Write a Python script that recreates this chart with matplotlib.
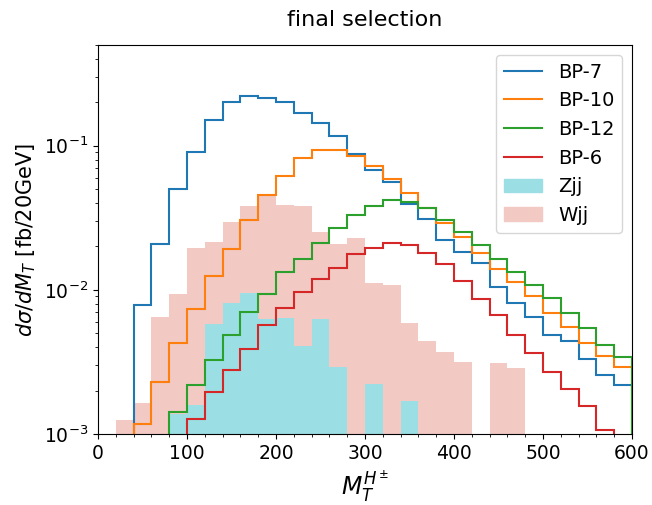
import numpy as np
import matplotlib
matplotlib.use("Agg")
import matplotlib.pyplot as plt
from matplotlib.ticker import AutoMinorLocator
from matplotlib.lines import Line2D
from matplotlib.patches import Patch

edges = np.arange(0, 620, 20)

bp7 = [0, 0, 0.0078, 0.0207, 0.050, 0.090, 0.151, 0.201, 0.221, 0.215,
       0.201, 0.170, 0.144, 0.116, 0.087, 0.068, 0.0556, 0.0395, 0.031, 0.0222,
       0.0184, 0.0153, 0.0104, 0.0081, 0.00653, 0.00487, 0.00445, 0.0033, 0.00257, 0.00219]
bp10 = [0, 0, 0.00117, 0.0023, 0.00427, 0.00734, 0.0124, 0.0193, 0.0306, 0.0452,
        0.0612, 0.0822, 0.0933, 0.094, 0.0843, 0.0726, 0.059, 0.0472, 0.0367, 0.0293,
        0.0234, 0.018, 0.0139, 0.0113, 0.0090, 0.00696, 0.0055, 0.0043, 0.00348, 0.0029]
bp12 = [0, 0, 0, 0, 0.00141, 0.00219, 0.00327, 0.00484, 0.00703, 0.0094,
        0.0133, 0.0164, 0.0213, 0.0268, 0.033, 0.0383, 0.0422, 0.041, 0.0367, 0.0303,
        0.0254, 0.0204, 0.0165, 0.0132, 0.0108, 0.0088, 0.0069, 0.0054, 0.00413, 0.0034]
bp6 = [0, 0, 0, 0, 0, 0.00127, 0.00197, 0.00278, 0.00387, 0.00574,
       0.00753, 0.00964, 0.0119, 0.0142, 0.0177, 0.0195, 0.0211, 0.0204, 0.018, 0.0152,
       0.01155, 0.0086, 0.0067, 0.0049, 0.00363, 0.00271, 0.00204, 0.00156, 0.00106, 0]
zjj = [0, 0, 0, 0, 0.00138, 0.00159, 0.0058, 0.0081, 0.0095, 0.0063,
       0.0064, 0.00408, 0.0063, 0.0029, 0, 0.00222, 0, 0.0017, 0, 0,
       0, 0, 0, 0, 0, 0, 0, 0, 0, 0]
wjj = [0, 0.00125, 0.00165, 0.00653, 0.0093, 0.0194, 0.0216, 0.0298, 0.0383, 0.0445,
       0.0385, 0.038, 0.0251, 0.0207, 0.0228, 0.0111, 0.0108, 0.00588, 0.00445, 0.0037,
       0.00318, 0, 0.0031, 0.00286, 0, 0, 0, 0, 0, 0]

signals = [("BP-7", bp7, "#1f77b4"), ("BP-10", bp10, "#ff7f0e"),
           ("BP-12", bp12, "#2ca02c"), ("BP-6", bp6, "#d62728")]
backgrounds = [("Zjj", zjj, "#9bdfe4"), ("Wjj", wjj, "#f2c9c3")]

fig = plt.figure(figsize=(6.52, 5.05), dpi=100)
ax = fig.add_axes([98/652, 1-434/505, 534/652, 389/505])

centers = edges[:-1] + 10
ax.hist(centers, bins=edges, weights=wjj, histtype='stepfilled', color="#f2c9c3", zorder=1)
ax.hist(centers, bins=edges, weights=zjj, histtype='stepfilled', color="#9bdfe4", zorder=1.1)
for name, vals, col in signals:
    ax.hist(centers, bins=edges, weights=vals, histtype='step', color=col, lw=1.5, zorder=2)

ax.set_yscale('log')
ax.set_xlim(0, 600)
ax.set_ylim(1e-3, 0.5)
ax.xaxis.set_minor_locator(AutoMinorLocator())
ax.tick_params(labelsize=13.5)
ax.set_xlabel(r'$M_T^{H^\pm}$', fontsize=17)
ax.set_ylabel(r'$d\sigma/dM_T$ [fb/20GeV]', fontsize=15)
ax.set_title('final selection', fontsize=16, pad=14)

handles = [Line2D([], [], color=c, lw=1.5) for _, _, c in signals] + \
          [Patch(color=c) for _, _, c in backgrounds]
labels = [n for n, _, _ in signals] + [n for n, _, _ in backgrounds]
ax.legend(handles, labels, loc='upper right', fontsize=14)

fig.savefig("out.png", dpi=100)
